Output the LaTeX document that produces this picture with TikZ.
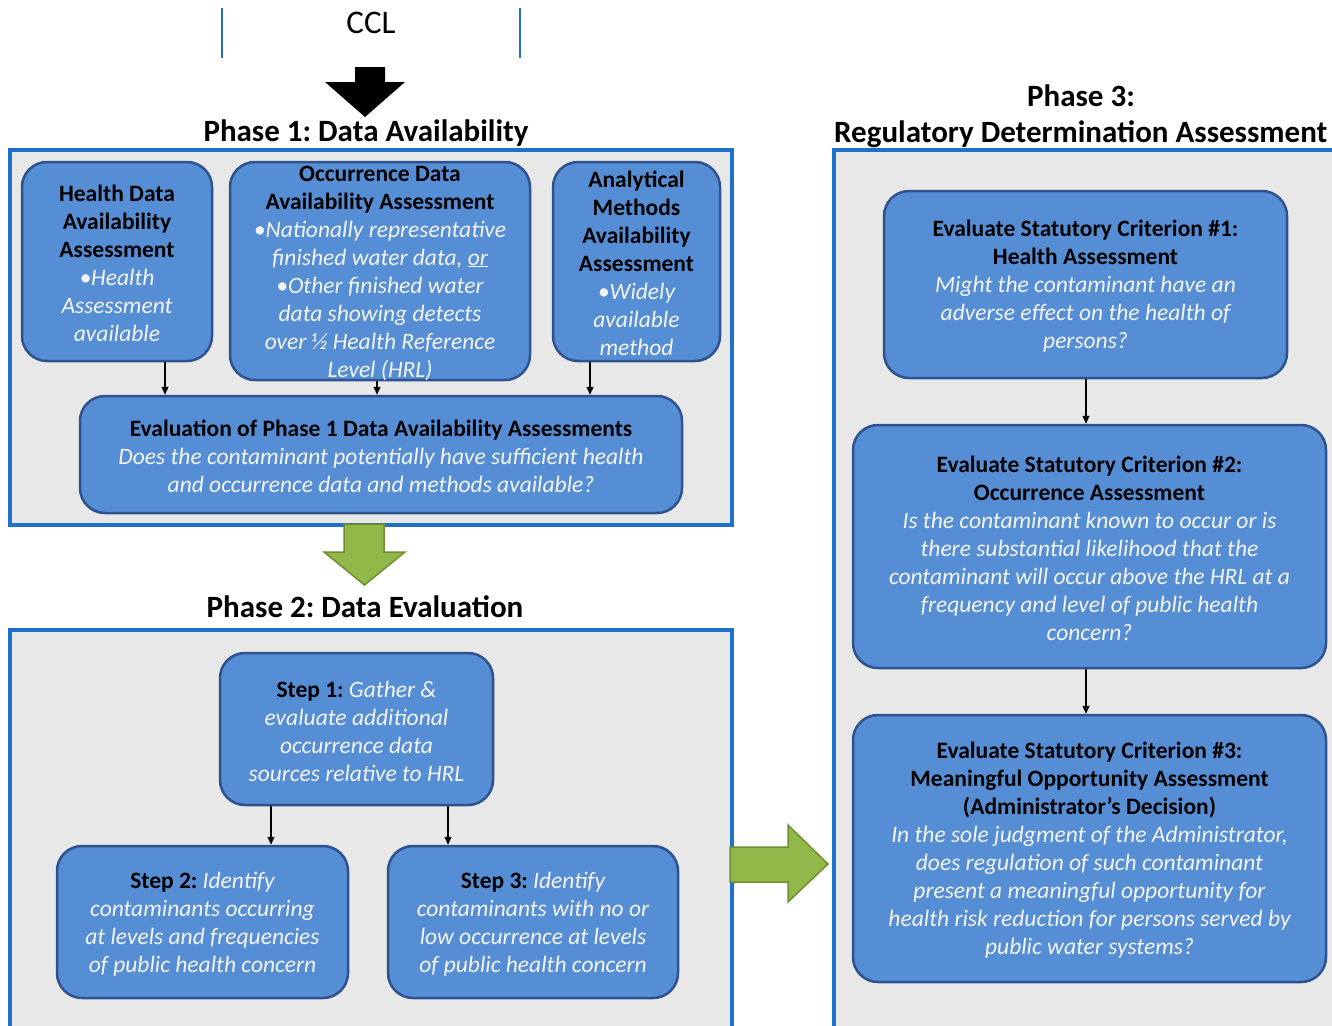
\documentclass[tikz,border=0pt]{standalone}
\usepackage{fontspec}
\setmainfont{Carlito}
\usetikzlibrary{arrows.meta}
\definecolor{panelblue}{RGB}{31,112,200}
\definecolor{panelgrey}{RGB}{232,232,232}
\definecolor{boxfill}{RGB}{85,142,213}
\definecolor{boxline}{RGB}{47,82,143}
\definecolor{arrowgreen}{RGB}{146,184,74}
\definecolor{arrowgreenline}{RGB}{110,142,48}
\definecolor{softwhite}{RGB}{244,244,244}
\newcommand\hd[1]{\textbf{#1}}
\newcommand\wt[1]{\textcolor{softwhite}{\itshape #1}}
\frenchspacing
\begin{document}
\begin{tikzpicture}[x=1pt,y=-1pt,
  panel/.style={draw=panelblue, line width=3.2pt, fill=panelgrey, inner sep=0pt},
  stage/.style={draw=boxline, line width=2.5pt, fill=boxfill, rounded corners=25pt, inner sep=0pt},
  body/.style={align=center, font=\fontsize{23.5}{28}\selectfont, inner sep=0pt, yshift=-2pt},
  title/.style={font=\fontsize{31}{34}\selectfont\bfseries, inner sep=0pt},
  link/.style={-{Triangle[length=8pt,width=7pt]}, line width=1.2pt},
  bigarrow/.style={fill=black},
  greenarrow/.style={fill=arrowgreen, draw=arrowgreenline, line width=1.5pt, line join=miter}]
\useasboundingbox (0,0) rectangle (1332,1025);
\fill[white] (0,0) rectangle (1332,1025);
\begin{scope}
\clip (0,0) rectangle (1332,1025);

% header
\node[font=\fontsize{33}{36}\selectfont, inner sep=0pt] (ccl) at (371,23) {CCL};
\draw[panelblue, line width=1.5pt] (222,8) -- (222,58);
\draw[panelblue, line width=1.5pt] (520,8) -- (520,58);
\fill[bigarrow] (355,67) -- (385,67) -- (385,82) -- (405,82) -- (365,117)
  -- (325,82) -- (355,82) -- cycle;

% phase titles
\node[title] (t1) at (366,133) {Phase 1: Data Availability};
\node[title] (t2) at (365,607) {Phase 2: Data Evaluation};
\node[title] (t3a) at (1081,96) {Phase 3:};
\node[title, anchor=west] (t3b) at (834,134) {Regulatory Determination Assessment};

% panels
\node[panel, minimum width=722, minimum height=375] (p1) at (371,337.5) {};
\node[panel, minimum width=722, minimum height=420] (p2) at (371,840) {};
\node[panel, minimum width=520, minimum height=900] (p3) at (1094,600) {};

% phase 1
\node[stage, minimum width=190, minimum height=199] (health) at (117,261.5) {};
\node[body] (healthtxt) at (health) {\hd{Health Data}\\ \hd{Availability}\\ \hd{Assessment}\\
  \wt{•Health}\\ \wt{Assessment}\\ \wt{available}};
\node[stage, minimum width=300, minimum height=218] (occ) at (380,271) {};
\node[body] (occtxt) at (occ) {\hd{Occurrence Data}\\ \hd{Availability Assessment}\\
  \wt{•Nationally representative}\\ \wt{finished water data, \underline{or}}\\
  \wt{•Other finished water}\\ \wt{data showing detects}\\ \wt{over ½ Health Reference}\\
  \wt{Level (HRL)}};
\node[stage, minimum width=167, minimum height=199] (meth) at (636.5,261.5) {};
\node[body] (methtxt) at (meth) {\hd{Analytical}\\ \hd{Methods}\\ \hd{Availability}\\ \hd{Assessment}\\
  \wt{•Widely}\\ \wt{available}\\ \wt{method}};
\node[stage, minimum width=602, minimum height=117] (eval) at (381,454.5) {};
\node[body] (evaltxt) at (eval) {\hd{Evaluation of Phase 1 Data Availability Assessments}\\
  \wt{Does the contaminant potentially have sufficient health}\\
  \wt{and occurrence data and methods available?}};
\draw[link] (165,0 |- health.south) -- (165,0 |- eval.north);
\draw[link] (377,0 |- occ.south) -- (377,0 |- eval.north);
\draw[link] (590,0 |- meth.south) -- (590,0 |- eval.north);

% phase 1 -> phase 2
\filldraw[greenarrow] (344,524) -- (384,524) -- (384,552) -- (405,552) -- (364.5,585)
  -- (324,552) -- (344,552) -- cycle;

% phase 2
\node[stage, minimum width=273, minimum height=152] (s1) at (356.5,729) {};
\node[body] (s1txt) at (s1) {\hd{Step 1:} \wt{Gather \&}\\ \wt{evaluate additional}\\
  \wt{occurrence data}\\ \wt{sources relative to HRL}};
\node[stage, minimum width=291, minimum height=152] (s2) at (202.5,922) {};
\node[body] (s2txt) at (s2) {\hd{Step 2:} \wt{Identify}\\ \wt{contaminants occurring}\\
  \wt{at levels and frequencies}\\ \wt{of public health concern}};
\node[stage, minimum width=290, minimum height=152] (s3) at (533,922) {};
\node[body] (s3txt) at (s3) {\hd{Step 3:} \wt{Identify}\\ \wt{contaminants with no or}\\
  \wt{low occurrence at levels}\\ \wt{of public health concern}};
\draw[link] (271,0 |- s1.south) -- (271,0 |- s2.north);
\draw[link] (448,0 |- s1.south) -- (448,0 |- s3.north);

% phase 2 -> phase 3
\filldraw[greenarrow] (730,847) -- (788,847) -- (788,825) -- (828,864) -- (788,902)
  -- (788,882) -- (730,882) -- cycle;

% phase 3
\node[stage, minimum width=403, minimum height=187] (c1) at (1085.5,284.5) {};
\node[body] (c1txt) at (c1) {\hd{Evaluate Statutory Criterion \#1:}\\ \hd{Health Assessment}\\
  \wt{Might the contaminant have an}\\ \wt{adverse effect on the health of}\\ \wt{persons?}};
\node[stage, minimum width=473, minimum height=243] (c2) at (1089.5,546.5) {};
\node[body] (c2txt) at (c2) {\hd{Evaluate Statutory Criterion \#2:}\\ \hd{Occurrence Assessment}\\
  \wt{Is the contaminant known to occur or is}\\ \wt{there substantial likelihood that the}\\
  \wt{contaminant will occur above the HRL at a}\\ \wt{frequency and level of public health}\\
  \wt{concern?}};
\node[stage, minimum width=473, minimum height=267] (c3) at (1089.5,848.5) {};
\node[body] (c3txt) at (c3) {\hd{Evaluate Statutory Criterion \#3:}\\ \hd{Meaningful Opportunity Assessment}\\
  \hd{(Administrator’s Decision)}\\
  \wt{In the sole judgment of the Administrator,}\\ \wt{does regulation of such contaminant}\\
  \wt{present a meaningful opportunity for}\\ \wt{health risk reduction for persons served by}\\
  \wt{public water systems?}};
\draw[link] (1086,0 |- c1.south) -- (1086,0 |- c2.north);
\draw[link] (1086,0 |- c2.south) -- (1086,0 |- c3.north);
\end{scope}
\end{tikzpicture}
\end{document}
